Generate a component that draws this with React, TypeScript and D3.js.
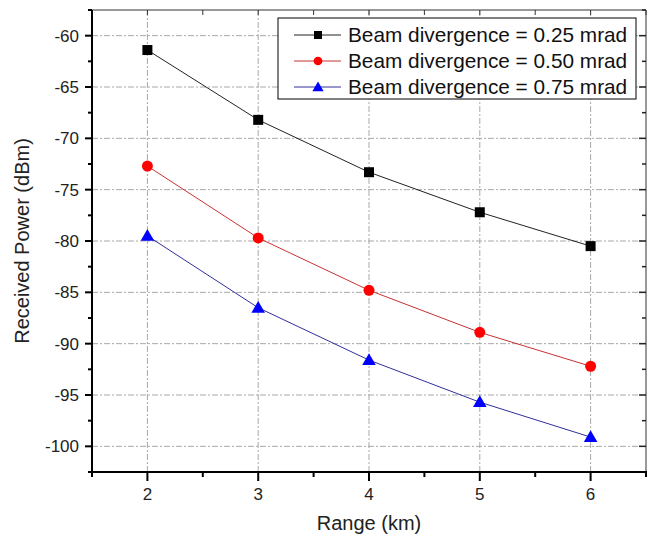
import React from "react";
import { scaleLinear, line, range, symbol, symbolSquare, symbolCircle, symbolTriangle } from "d3";

const ranges = [2, 3, 4, 5, 6];
const div025 = [-61.4, -68.2, -73.3, -77.2, -80.5];
const div050 = [-72.7, -79.7, -84.8, -88.9, -92.2];
const div075 = [-79.5, -86.5, -91.6, -95.7, -99.1];
const yTicks = [-60, -65, -70, -75, -80, -85, -90, -95, -100];
const seriesNames = [
  "Beam divergence = 0.25 mrad",
  "Beam divergence = 0.50 mrad",
  "Beam divergence = 0.75 mrad",
];

const W = 649;
const H = 539;
const left = 92;
const right = 646;
const top = 10;
const bottom = 472;
const font = "Arial, 'Liberation Sans', sans-serif";

const series = [
  { name: seriesNames[0], values: div025, fill: "#000000", stroke: "#222222", shape: symbolSquare, size: 100, lsize: 64 },
  { name: seriesNames[1], values: div050, fill: "#ff0000", stroke: "#c83232", shape: symbolCircle, size: 95, lsize: 60 },
  { name: seriesNames[2], values: div075, fill: "#0000ff", stroke: "#30309a", shape: symbolTriangle, size: 80, lsize: 55 },
];

export default function App() {
  const x = scaleLinear().domain([1.5, 6.5]).range([left, right]);
  const y = scaleLinear().domain([-102.5, -57.5]).range([bottom, top]);

  const xMinor = range(1.5, 6.51, 0.5).filter((d) => !ranges.includes(d));
  const yMinor = range(-102.5, -57.4, 2.5).filter((d) => !yTicks.includes(d));
  const xHalf = range(2, 6.51, 0.5);

  const lineGen = (vals: number[]) =>
    line<number>()
      .x((_, i) => x(ranges[i]))
      .y((d) => y(d))(vals) || "";

  const grid = "#a8a8a8";

  return (
    <svg width={W} height={H} style={{ position: "absolute", left: 0, top: 0, background: "#fff" }}>
      {/* grid */}
      {ranges.map((d) => (
        <line key={"gx" + d} x1={x(d)} x2={x(d)} y1={top} y2={bottom} stroke={grid} strokeWidth={1} strokeDasharray="6,2,2,2" />
      ))}
      {yTicks.map((d) => (
        <line key={"gy" + d} x1={left} x2={right} y1={y(d)} y2={y(d)} stroke={grid} strokeWidth={1} strokeDasharray="6,2,2,2" />
      ))}

      {/* frame */}
      <line x1={left} x2={right} y1={top} y2={top} stroke="#333" strokeWidth={1} />
      <line x1={right} x2={right} y1={top} y2={bottom} stroke="#333" strokeWidth={1} />
      {xHalf.map((d) => (
        <line key={"tt" + d} x1={x(d)} x2={x(d)} y1={top} y2={top + 5} stroke="#333" strokeWidth={1} />
      ))}
      {[...yTicks, ...yMinor].map((d) => (
        <line key={"rt" + d} x1={right} x2={right - (yTicks.includes(d) ? 7 : 4)} y1={y(d)} y2={y(d)} stroke="#222" strokeWidth={1.5} />
      ))}

      {/* series */}
      {series.map((s) => (
        <path key={s.name} d={lineGen(s.values)} fill="none" stroke={s.stroke} strokeWidth={1} />
      ))}
      {series.map((s) =>
        s.values.map((v, i) => (
          <path
            key={s.name + i}
            d={symbol(s.shape, s.size)() || ""}
            transform={`translate(${x(ranges[i])},${y(v) + (s.shape === symbolTriangle ? 1 : 0)})`}
            fill={s.fill}
          />
        ))
      )}

      {/* axes */}
      <line x1={left} x2={left} y1={top} y2={bottom + 1} stroke="#000" strokeWidth={2} />
      <line x1={left - 1} x2={right + 1} y1={bottom} y2={bottom} stroke="#000" strokeWidth={2} />
      {yTicks.map((d) => (
        <g key={"yt" + d}>
          <line x1={left - 7} x2={left} y1={y(d)} y2={y(d)} stroke="#000" strokeWidth={2} />
          <text x={left - 13} y={y(d)} dy="0.35em" textAnchor="end" fontFamily={font} fontSize={17} fill="#222">
            {d}
          </text>
        </g>
      ))}
      {yMinor.map((d) => (
        <line key={"ym" + d} x1={left - 4} x2={left} y1={y(d)} y2={y(d)} stroke="#000" strokeWidth={2} />
      ))}
      {ranges.map((d) => (
        <g key={"xt" + d}>
          <line x1={x(d)} x2={x(d)} y1={bottom} y2={bottom + 9} stroke="#000" strokeWidth={2} />
          <text x={x(d)} y={bottom + 28} textAnchor="middle" fontFamily={font} fontSize={17} fill="#222">
            {d}
          </text>
        </g>
      ))}
      {xMinor.map((d) => (
        <line key={"xm" + d} x1={x(d)} x2={x(d)} y1={bottom} y2={bottom + 5} stroke="#000" strokeWidth={2} />
      ))}

      {/* titles */}
      <text x={(left + right) / 2} y={530} textAnchor="middle" fontFamily={font} fontSize={20} fill="#222">
        Range (km)
      </text>
      <text
        transform={`translate(29,${(top + bottom) / 2}) rotate(-90)`}
        textAnchor="middle"
        fontFamily={font}
        fontSize={20}
        fill="#222"
      >
        Received Power (dBm)
      </text>

      {/* legend */}
      <rect x={278} y={18} width={358} height={81} fill="#fff" stroke="#000" strokeWidth={1} />
      {series.map((s, i) => {
        const ly = 35 + i * 26;
        return (
          <g key={"lg" + i}>
            <line x1={294} x2={341} y1={ly} y2={ly} stroke={s.stroke} strokeWidth={1} />
            <path d={symbol(s.shape, s.lsize)() || ""} transform={`translate(318,${ly + (s.shape === symbolTriangle ? 1 : 0)})`} fill={s.fill} />
            <text x={348} y={ly} dy="0.36em" fontFamily={font} fontSize={20.8} fill="#111">
              {s.name}
            </text>
          </g>
        );
      })}
    </svg>
  );
}
